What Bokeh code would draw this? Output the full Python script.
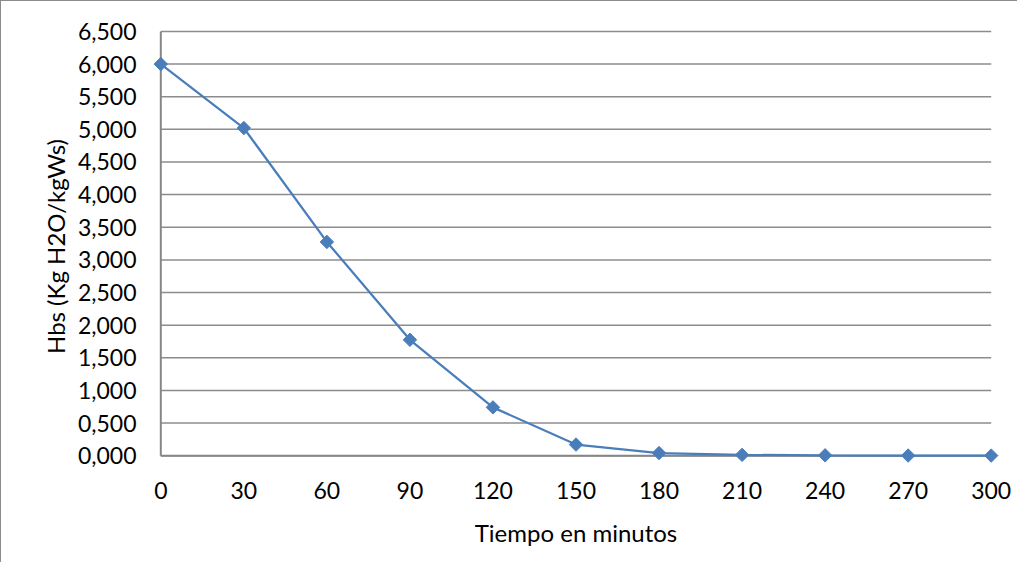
import math
from bokeh.plotting import figure
from bokeh.models import FixedTicker, CustomJSTickFormatter, Range1d
from bokeh.embed import file_html
from bokeh.resources import INLINE

# Data (Hbs in kg H2O / kg dry solid, decimal comma on display)
tiempo = [0, 30, 60, 90, 120, 150, 180, 210, 240, 270, 300]
hbs = [6.000, 5.020, 3.275, 1.775, 0.740, 0.170, 0.040, 0.012, 0.005, 0.002, 0.001]
x_ticks = [0, 30, 60, 90, 120, 150, 180, 210, 240, 270, 300]
y_ticks = [0.0, 0.5, 1.0, 1.5, 2.0, 2.5, 3.0, 3.5, 4.0, 4.5, 5.0, 5.5, 6.0, 6.5]

FONT = "Lato"
GRAY = "#8c8c8c"
AXIS_GRAY = "#868686"
BLUE = "#4a7ebb"

p = figure(
    frame_width=847, frame_height=434,
    min_border_left=151, min_border_top=28, min_border_right=18, min_border_bottom=99,
    x_range=Range1d(-3, 303), y_range=Range1d(-0.12, 6.53),
    output_backend="svg", toolbar_location=None,
)
p.styles = {"border-top": "1px solid #8c8c8c", "border-left": "1px solid #8c8c8c"}
p.outline_line_color = None
p.background_fill_color = "white"
p.border_fill_color = "white"

p.xaxis.ticker = FixedTicker(ticks=x_ticks)
p.yaxis.ticker = FixedTicker(ticks=y_ticks)
p.yaxis.formatter = CustomJSTickFormatter(code="return tick.toFixed(3).replace('.', ',');")

for ax in (p.xaxis[0], p.yaxis[0]):
    ax.axis_line_color = None
    ax.major_tick_line_color = None
    ax.minor_tick_line_color = None
    ax.major_label_text_font = FONT
    ax.major_label_text_font_size = "23px"
    ax.major_label_text_color = "black"
    ax.axis_label_text_font = FONT
    ax.axis_label_text_font_size = "24px"
    ax.axis_label_text_font_style = "normal"
    ax.axis_label_text_color = "black"

p.xaxis.axis_label = "Tiempo en minutos"
p.yaxis.axis_label = "Hbs (Kg H2O/kgWs)"
p.xaxis.major_label_standoff = 12
p.xaxis.axis_label_standoff = 16
p.yaxis.major_label_standoff = 10
p.yaxis.axis_label_standoff = 5

p.xgrid.grid_line_color = None
p.ygrid.grid_line_color = None

# horizontal gridlines between the first and last x tick
n = len(y_ticks)
p.segment(x0=[x_ticks[0]] * n, x1=[x_ticks[-1]] * n,
          y0=y_ticks, y1=y_ticks, line_color=GRAY, line_width=1.5)
# axis lines crossing at the origin
p.segment(x0=[x_ticks[0], x_ticks[0]], x1=[x_ticks[0], x_ticks[-1]],
          y0=[y_ticks[0], y_ticks[0]], y1=[y_ticks[-1], y_ticks[0]],
          line_color=AXIS_GRAY, line_width=2)

p.line(tiempo, hbs, line_color=BLUE, line_width=2.25)
p.scatter(tiempo, hbs, marker="square", size=9.5, angle=math.pi / 4,
          fill_color=BLUE, line_color=BLUE)

open("out.html", "w").write(file_html(p, INLINE))
